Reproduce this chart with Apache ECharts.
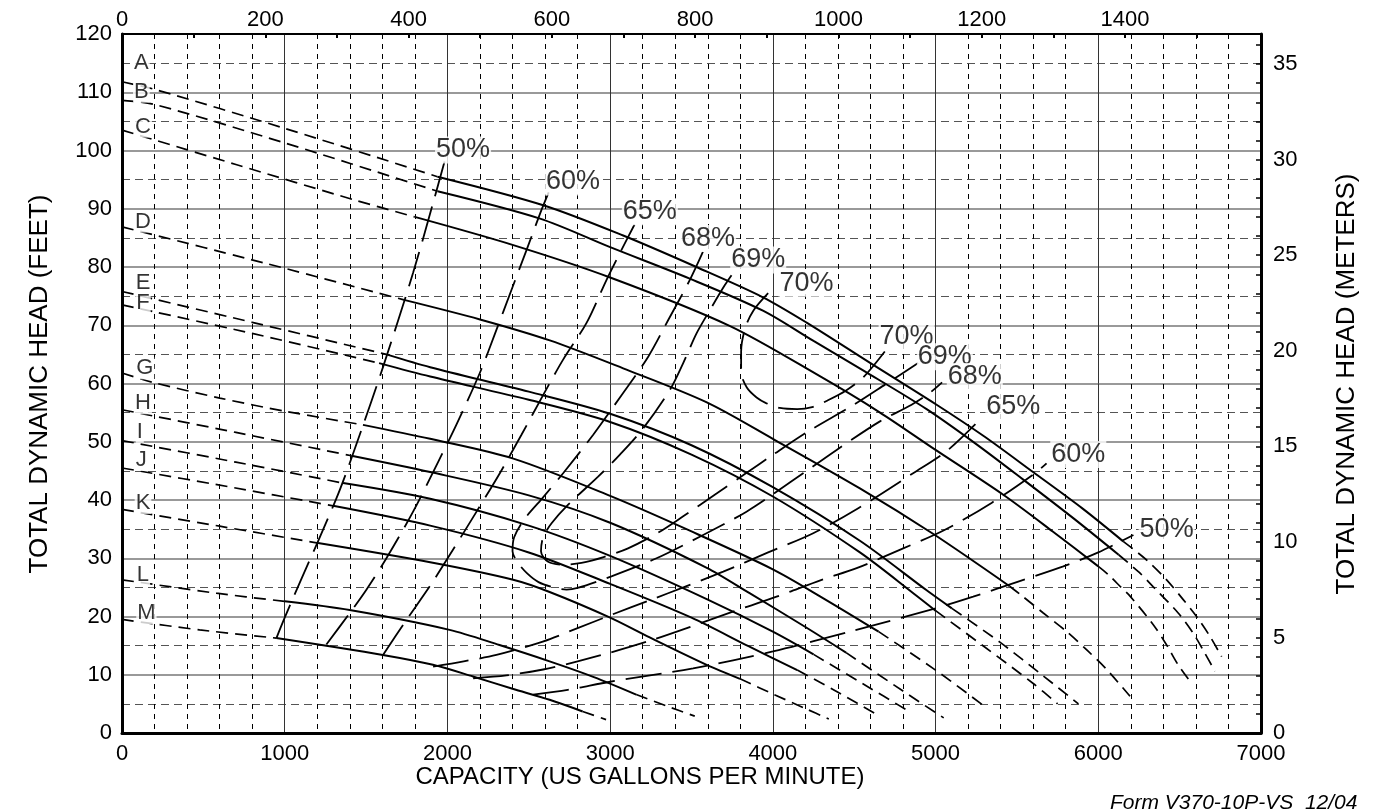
<!DOCTYPE html>
<html>
<head>
<meta charset="utf-8">
<script src="https://cdn.jsdelivr.net/npm/echarts@6.0.0/dist/echarts.min.js"></script>
<style>
  html, body { margin: 0; padding: 0; background: #fff; }
  #chart { width: 1374px; height: 812px; }
</style>
</head>
<body>
<div id="chart"></div>
<script>
// head curves, [gpm, feet]; dashed before runFrom and after runTo
var curveA = [[0,111.8],[200,110.5],[1000,103.8],[1939,95.5],[2589,90.6],[3080,85.4],[3530,80.0],[3939,74.8],[4205,70.5],[4600,63.5],[5004,56.4],[5300,50.9],[5599,44.8],[5900,38.6],[6153,32.9],[6297,29.7],[6420,26.3],[6522,22.9],[6604,20.0],[6686,16.6],[6758,13.1]];
var curveB = [[0,108.6],[200,107.9],[1000,101.3],[1939,93.0],[2569,88.3],[3000,83.4],[3489,78.0],[3939,72.5],[4250,67.3],[4570,62.0],[4945,55.6],[5250,49.6],[5539,43.5],[5850,36.8],[6125,30.6],[6250,27.6],[6338,25.1],[6491,20.6],[6584,17.1],[6645,14.2],[6717,10.6]];
var curveC = [[0,103.5],[700,97.6],[1430,91.5],[1799,88.6],[2400,83.8],[3000,78.2],[3734,69.9],[4286,61.3],[4654,55.1],[5000,48.6],[5416,40.9],[5720,34.6],[6000,28.6],[6061,27.2],[6144,24.9],[6195,23.5],[6338,18.6],[6420,15.1],[6491,11.7],[6563,8.9]];
var curveD = [[0,86.9],[887,80.6],[1727,74.4],[2200,71.0],[2629,67.4],[3080,62.6],[3591,56.8],[4000,50.5],[4535,42.0],[4984,34.2],[5455,25.2],[5529,23.6],[5662,20.6],[5806,17.4],[5939,14.0],[6052,10.9],[6195,6.3]];
var curveE = [[0,75.8],[800,70.5],[1625,65.0],[1894,62.8],[2500,58.6],[3000,54.8],[3500,49.4],[4000,42.2],[4535,33.0],[4945,24.5],[5100,21.4],[5395,15.6],[5662,9.8],[5878,5.0]];
var curveF = [[0,73.5],[800,68.6],[1580,63.5],[1894,61.2],[2500,57.2],[3000,53.4],[3500,47.8],[4000,40.6],[4535,31.0],[4863,24.0],[5000,21.0],[5300,14.8],[5600,8.5],[5750,5.0]];
var curveG = [[0,61.8],[189,60.2],[601,57.5],[1010,55.2],[1481,52.9],[1894,50.5],[2405,47.1],[3000,40.7],[3500,34.6],[4000,28.1],[4300,23.3],[4650,17.4],[5000,10.8],[5300,4.6]];
var curveH = [[0,55.5],[700,51.6],[1410,47.6],[1894,44.8],[2500,40.8],[3000,36.1],[3591,28.4],[3857,24.0],[4200,18.2],[4450,13.8],[4800,7.2],[5050,2.6]];
var curveI = [[0,50.2],[700,46.5],[1359,42.9],[1894,40.2],[2500,35.6],[3000,30.4],[3600,22.9],[4000,17.4],[4250,13.5],[4550,8.5],[4850,3.5]];
var curveJ = [[0,45.5],[650,42.3],[1297,39.0],[1894,35.6],[2500,31.0],[3000,25.6],[3500,19.8],[3850,14.9],[4150,10.8],[4400,7.0],[4650,3.0]];
var curveK = [[0,38.4],[600,35.5],[1205,32.6],[1894,29.3],[2404,26.3],[2628,24.2],[3000,19.8],[3243,16.4],[3593,11.7],[3798,9.3],[4000,6.7],[4200,4.2],[4344,2.4]];
var curveL = [[0,26.3],[580,24.0],[1000,22.6],[1399,21.1],[2013,17.7],[2320,15.1],[2628,12.3],[2900,9.6],[3160,6.6],[3350,4.6],[3520,2.9]];
var curveM = [[0,19.5],[477,17.7],[948,16.3],[1603,13.4],[1911,11.7],[2157,9.7],[2400,7.6],[2628,5.7],[2831,3.7],[2975,2.3]];

var curveNames = ['A','B','C','D','E','F','G','H','I','J','K','L','M'];
var runFrom = [1939,1939,1799,1727,1625,1580,1481,1410,1359,1297,1205,1000,948];
var runTo   = [6153,6125,6000,5455,5100,5000,4650,4450,4250,4150,3798,3160,2831];
var letterX = [119,119,129,129,129,129,140,129,109,119,129,129,150];
var letterY = [115.0,110.1,104.1,87.8,77.2,73.8,62.6,56.6,51.7,46.9,39.5,27.2,20.6];

// efficiency contours
var eff50Left  = [[949,16.3],[1000,19.8],[1100,26.3],[1200,32.6],[1338,41.7],[1461,51.2],[1605,62.9],[1789,79.0],[1912,91.0],[1985,98.4]];
var eff60Left  = [[1256,15.2],[1400,20.6],[1502,24.6],[1625,30.0],[1789,38.0],[1944,46.6],[2056,53.0],[2199,61.8],[2301,69.2],[2394,76.1],[2486,82.9],[2578,89.8],[2625,93.0]];
var eff65Left  = [[1604,13.4],[1748,19.4],[1892,25.2],[2035,31.5],[2179,38.0],[2322,44.6],[2455,51.2],[2588,58.0],[2711,64.1],[2855,70.4],[2978,77.8],[3060,82.4],[3150,87.3]];
var eff68      = [[3570,82.6],[3490,77.8],[3357,70.9],[3234,64.6],[3070,58.0],[2896,51.2],[2711,44.6],[2580,40.2],[2470,36.6],[2410,33.6],[2400,31.2],[2434,29.2],[2490,27.4],[2560,25.9],[2650,25.0],[2732,24.6],[2800,24.9],[3008,26.9],[3285,30.0],[3551,33.7],[3838,38.0],[4115,43.2],[4392,48.6],[4658,53.5],[4850,56.3],[4960,58.3],[5040,60.2]];
var eff69      = [[3746,78.6],[3705,76.9],[3613,72.6],[3531,68.6],[3449,63.5],[3367,58.9],[3203,52.3],[3060,47.8],[2926,44.0],[2742,39.2],[2640,36.0],[2588,33.6],[2575,31.2],[2619,29.4],[2720,28.9],[2824,29.2],[2960,30.2],[3110,31.7],[3290,34.3],[3449,37.2],[3654,41.1],[3830,44.5],[4002,47.8],[4207,51.6],[4494,56.3],[4700,60.0],[4893,63.5]];
var eff70      = [[3971,75.5],[3880,72.5],[3830,69.5],[3805,65.5],[3805,62.0],[3840,59.3],[3900,57.6],[3961,56.6],[4043,55.8],[4150,55.6],[4248,56.0],[4330,57.0],[4450,58.8],[4560,61.2],[4688,65.5]];
var eff65Right = [[1912,11.4],[2100,12.3],[2301,13.4],[2586,15.7],[2800,18.0],[3000,20.2],[3254,22.9],[3450,25.0],[3695,27.7],[3971,31.0],[4248,34.3],[4525,38.6],[4862,44.6],[5077,48.6],[5280,54.0]];
var eff60Right = [[2158,9.4],[2363,9.9],[2588,10.9],[2800,12.3],[3000,13.8],[3250,15.9],[3500,18.3],[3750,20.8],[4023,23.4],[4300,26.3],[4515,28.3],[4801,31.7],[5058,34.9],[5344,39.5],[5611,44.6],[5682,46.3]];
var eff50Right = [[2527,6.6],[2739,7.4],[3000,8.8],[3510,11.1],[4000,14.0],[4500,17.6],[5000,21.4],[5231,23.4],[5508,26.0],[5785,28.6],[6000,31.0],[6216,34.0]];

var effText = ['50%','60%','65%','68%','69%','70%','70%','69%','68%','65%','60%','50%'];
var effX = [2096,2772,3244,3602,3910,4207,4822,5057,5241,5478,5877,6420];
var effY = [100.1,94.6,89.5,84.9,81.2,77.2,68.0,64.6,61.2,56.0,47.8,34.9];

var xTicks = [0, 7000, 1000];        // gpm: min, max, step
var yTicks = [0, 120, 10];           // feet
var M3H_PER_GPM = 1 / 4.4029;
var M_PER_FT = 0.3048;

var FONT = 'Liberation Sans';
var chart = echarts.init(document.getElementById('chart'));

var curves = [curveA, curveB, curveC, curveD, curveE, curveF, curveG, curveH, curveI, curveJ, curveK, curveL, curveM];

function part(pts, lo, hi) {
  return pts.filter(function (p) { return p[0] >= lo && p[0] <= hi; });
}
function line(data, dash, width) {
  return {
    type: 'line', data: data, showSymbol: false, symbol: 'none', smooth: 0.3,
    silent: true, z: 3,
    lineStyle: { color: '#000', width: width, type: dash }
  };
}

var series = [];
curves.forEach(function (c, i) {
  series.push(line(part(c, 0, runFrom[i]), [12, 7], 1.7));
  series.push(line(part(c, runFrom[i], runTo[i]), 'solid', 2));
  series.push(line(part(c, runTo[i], 1e9), [12, 7], 1.7));
});
[eff50Left, eff60Left, eff65Left, eff68, eff69, eff70, eff65Right, eff60Right, eff50Right].forEach(function (e) {
  series.push(line(e, [36, 11], 1.8));
});

function labels(xs, ys, texts, size) {
  return {
    type: 'scatter', symbolSize: 1, silent: true, z: 10,
    itemStyle: { color: 'rgba(0,0,0,0)' },
    data: xs.map(function (x, i) { return [x, ys[i], texts[i]]; }),
    label: {
      show: true, position: 'inside', color: '#000',
      fontFamily: FONT, fontSize: size,
      backgroundColor: '#fff', padding: [0, 1],
      formatter: function (p) { return p.data[2]; }
    }
  };
}
series.push(labels(letterX, letterY, curveNames, 22));
series.push(labels(effX, effY, effText, 27));

function tickFont(extra) {
  return Object.assign({ color: '#000', fontFamily: FONT, fontSize: 22 }, extra);
}
function every(step) {
  return function (v) { return Math.abs(v % step) < 1e-6 ? String(Math.round(v)) : ''; };
}

chart.setOption({
  animation: false,
  grid: { left: 122, right: 113, top: 34, bottom: 79, outerBoundsMode: 'none' },
  xAxis: [{
    type: 'value', position: 'bottom', min: xTicks[0], max: xTicks[1], interval: xTicks[2],
    axisLine: { show: true, onZero: false, lineStyle: { color: '#000', width: 3 } },
    axisTick: { show: false },
    axisLabel: tickFont({ margin: 10, formatter: every(1000) }),
    splitLine: { show: true, lineStyle: { color: '#333', width: 1 } },
    minorTick: { show: false, splitNumber: 5 },
    minorSplitLine: { show: true, lineStyle: { color: '#000', width: 1, type: [5, 5] } }
  }, {
    type: 'value', position: 'top', min: 0, max: xTicks[1] * M3H_PER_GPM, interval: 100,
    axisLine: { show: true, onZero: false, lineStyle: { color: '#000', width: 2 } },
    axisTick: { show: true, inside: true, length: 4, lineStyle: { color: '#000', width: 2 } },
    axisLabel: tickFont({ margin: 3, formatter: every(200) }),
    splitLine: { show: false }
  }],
  yAxis: [{
    type: 'value', position: 'left', min: yTicks[0], max: yTicks[1], interval: yTicks[2],
    axisLine: { show: true, onZero: false, lineStyle: { color: '#000', width: 3 } },
    axisTick: { show: false },
    axisLabel: tickFont({ margin: 10, formatter: every(10) }),
    splitLine: { show: true, lineStyle: { color: '#777', width: 1.5 } },
    minorTick: { show: false, splitNumber: 2 },
    minorSplitLine: { show: true, lineStyle: { color: '#555', width: 1, type: [8, 5] } }
  }, {
    type: 'value', position: 'right', min: 0, max: yTicks[1] * M_PER_FT, interval: 1,
    axisLine: { show: true, onZero: false, lineStyle: { color: '#000', width: 3 } },
    axisTick: { show: true, inside: true, length: 5, lineStyle: { color: '#000', width: 1.5 } },
    axisLabel: tickFont({ margin: 12, formatter: every(5) }),
    splitLine: { show: false }
  }],
  graphic: [
    { type: 'text', x: 40, y: 384, rotation: Math.PI / 2, silent: true,
      style: { text: 'TOTAL DYNAMIC HEAD (FEET)', font: '26px "Liberation Sans"', fill: '#000',
               textAlign: 'center', textVerticalAlign: 'middle', align: 'center', verticalAlign: 'middle' } },
    { type: 'text', x: 1347, y: 384, rotation: Math.PI / 2, silent: true,
      style: { text: 'TOTAL DYNAMIC HEAD (METERS)', font: '26px "Liberation Sans"', fill: '#000',
               textAlign: 'center', textVerticalAlign: 'middle', align: 'center', verticalAlign: 'middle' } },
    { type: 'text', x: 640, y: 777, silent: true,
      style: { text: 'CAPACITY (US GALLONS PER MINUTE)', font: '24px "Liberation Sans"', fill: '#000',
               textAlign: 'center', textVerticalAlign: 'middle', align: 'center', verticalAlign: 'middle' } },
    { type: 'text', x: 1110, y: 803, silent: true,
      style: { text: 'Form V370-10P-VS  12/04', font: 'italic 21px "Liberation Sans"', fill: '#000',
               textAlign: 'left', textVerticalAlign: 'middle', align: 'left', verticalAlign: 'middle' } }
  ],
  series: series
});
</script>
</body>
</html>
